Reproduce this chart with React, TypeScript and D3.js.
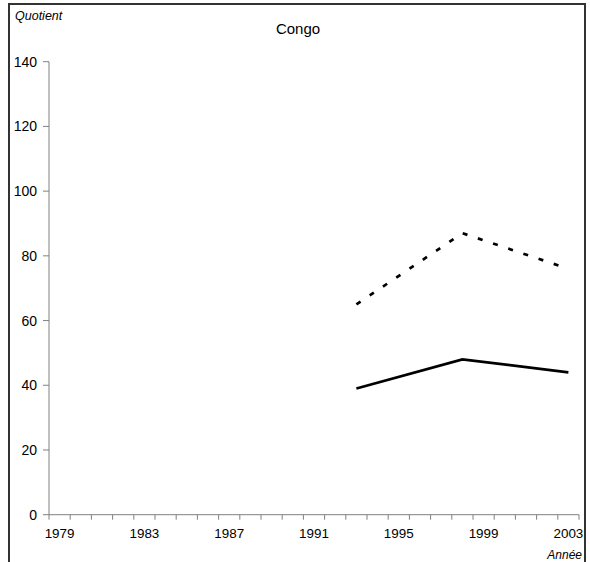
import React from "react";
import * as d3 from "d3";

const years: number[] = Array.from({ length: 25 }, (_, i) => 1979 + i);
const labelYears = [1979, 1983, 1987, 1991, 1995, 1999, 2003];
const yTicks = [0, 20, 40, 60, 80, 100, 120, 140];
const dataYears = [1993, 1998, 2003];
const dottedSeries = [65, 87, 76];
const solidSeries = [39, 48, 44];

export default function App() {
  const W = 590, H = 562;
  const x = d3.scaleBand<number>().domain(years).range([49, 579]).padding(0);
  const y = d3.scaleLinear().domain([0, 140]).range([514.7, 61.7]);
  const cx = (yr: number) => (x(yr) as number) + x.bandwidth() / 2;
  const line = d3.line<number>().x((_, i) => cx(dataYears[i])).y((d) => y(d));
  const boundaries = years.map((yr) => x(yr) as number).concat([579]);
  const axisColor = "#808080";
  const font = "Arial, 'Liberation Sans', sans-serif";
  return (
    <svg width={W} height={H} style={{ position: "absolute", left: 0, top: 0 }} fontFamily={font}>
      <rect x={0} y={0} width={W} height={H} fill="#fff" />
      <rect x={9} y={4} width={576} height={580} fill="none" stroke="#333" strokeWidth={2} />
      <text x={15} y={20} fontSize={12.5} fontStyle="italic" fill="#000">Quotient</text>
      <text x={298} y={34} fontSize={15} textAnchor="middle" fill="#000">Congo</text>
      {/* y axis */}
      <line x1={49} x2={49} y1={y(140)} y2={y(0)} stroke={axisColor} strokeWidth={1} />
      {yTicks.map((t) => (
        <g key={t}>
          <line x1={43} x2={49} y1={y(t)} y2={y(t)} stroke={axisColor} strokeWidth={1} />
          <text x={37} y={y(t)} dy="0.36em" fontSize={14} textAnchor="end" fill="#000">{t}</text>
        </g>
      ))}
      {/* x axis */}
      <line x1={49} x2={579} y1={y(0)} y2={y(0)} stroke={axisColor} strokeWidth={1} />
      {boundaries.map((b, i) => (
        <line key={i} x1={b} x2={b} y1={y(0)} y2={y(0) + 5} stroke={axisColor} strokeWidth={1} />
      ))}
      {labelYears.map((yr) => (
        <text key={yr} x={cx(yr)} y={538} fontSize={12} textAnchor="middle" fill="#000"
          transform={`translate(${cx(yr)},0) scale(1.12,1) translate(${-cx(yr)},0)`}>{yr}</text>
      ))}
      <text x={582} y={559} fontSize={12} fontStyle="italic" textAnchor="end" fill="#000">Année</text>
      {/* series */}
      <path d={line(dottedSeries) || ""} fill="none" stroke="#000" strokeWidth={2.7} strokeDasharray="5,11" />
      <path d={line(solidSeries) || ""} fill="none" stroke="#000" strokeWidth={2.7} />
    </svg>
  );
}
